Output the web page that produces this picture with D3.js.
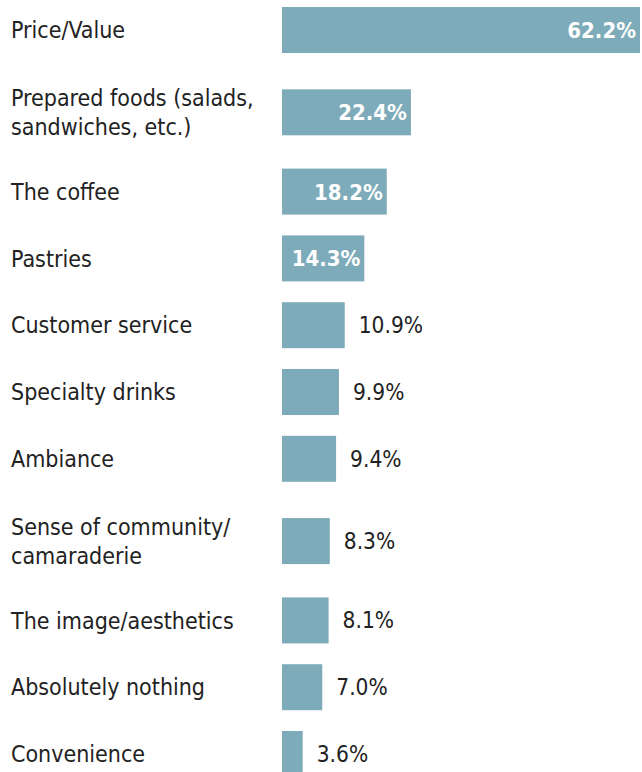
<!DOCTYPE html>
<html><head><meta charset="utf-8">
<script src="https://cdn.jsdelivr.net/npm/d3@7"></script>
<style>html,body{margin:0;padding:0;background:#fff;}svg{display:block;}</style>
</head><body>
<script>
const categories = [
  ["Price/Value"],
  ["Prepared foods (salads,", "sandwiches, etc.)"],
  ["The coffee"],
  ["Pastries"],
  ["Customer service"],
  ["Specialty drinks"],
  ["Ambiance"],
  ["Sense of community/", "camaraderie"],
  ["The image/aesthetics"],
  ["Absolutely nothing"],
  ["Convenience"]
];
const values = [62.2, 22.4, 18.2, 14.3, 10.9, 9.9, 9.4, 8.3, 8.1, 7.0, 3.6];
const valueLabels = ["62.2%","22.4%","18.2%","14.3%","10.9%","9.9%","9.4%","8.3%","8.1%","7.0%","3.6%"];

const W = 642, H = 772;
const barX0 = 282, barH = 46;
const step = 66.8, extraBefore = 15.5, extraAfter = 12.5;
const font = "'DejaVu Sans Condensed', 'DejaVu Sans', sans-serif";

const svg = d3.select("body").append("svg").attr("width", W).attr("height", H);

const x = d3.scaleLinear().domain([0, 62.2]).range([barX0, 640]);

// cumulative vertical positions derived from label line counts
const tops = [];
let y = 7;
categories.forEach((c, i) => {
  if (i > 0) {
    y += step;
    if (c.length > 1) y += extraBefore;
    if (categories[i-1].length > 1) y += extraAfter;
  }
  tops.push(y);
});

const rows = svg.selectAll("g.row").data(values).join("g")
  .attr("class", "row")
  .attr("transform", (d, i) => `translate(0,${tops[i]})`);

rows.append("rect")
  .attr("x", x(0))
  .attr("y", 0)
  .attr("width", d => x(d) - x(0))
  .attr("height", barH)
  .attr("fill", "#7eabba");

rows.each(function(d, i) {
  const g = d3.select(this);
  const lines = categories[i];
  const lh = 29;
  const cy = barH / 2;
  const t = g.append("text")
    .attr("x", 11)
    .attr("font-family", font)
    .attr("font-size", 23)
    .attr("fill", "#222");
  lines.forEach((ln, k) => {
    t.append("tspan").attr("x", 11)
      .attr("y", cy + (k - (lines.length - 1) / 2) * lh)
      .attr("dy", "0.36em")
      .text(ln);
  });
  const inside = d >= 14;
  g.append("text")
    .attr("x", inside ? x(d) - 4 : x(d) + 14)
    .attr("y", cy)
    .attr("dy", "0.36em")
    .attr("text-anchor", inside ? "end" : "start")
    .attr("font-family", font)
    .attr("font-size", inside ? 22 : 22.5)
    .attr("font-weight", inside ? "bold" : "normal")
    .attr("fill", inside ? "#fff" : "#222")
    .text(valueLabels[i]);
});
</script>
</body></html>
